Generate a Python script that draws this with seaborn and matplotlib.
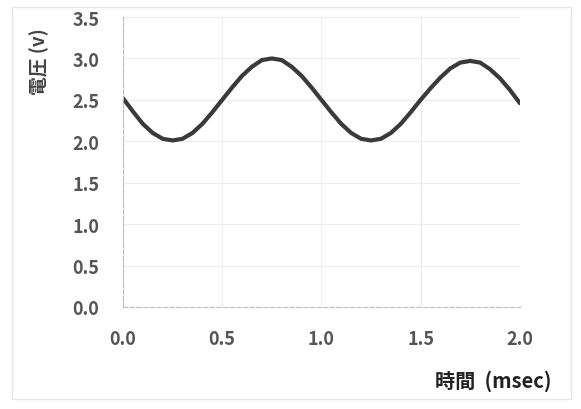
import matplotlib
matplotlib.use("Agg")
import matplotlib.pyplot as plt
import seaborn as sns
import pandas as pd
from matplotlib.patches import Rectangle

# time (msec) and voltage (v)
time_ms = [0.00, 0.05, 0.10, 0.15, 0.20, 0.25, 0.30, 0.35, 0.40, 0.45,
           0.50, 0.55, 0.60, 0.65, 0.70, 0.75, 0.80, 0.85, 0.90, 0.95,
           1.00, 1.05, 1.10, 1.15, 1.20, 1.25, 1.30, 1.35, 1.40, 1.45,
           1.50, 1.55, 1.60, 1.65, 1.70, 1.75, 1.80, 1.85, 1.90, 1.95, 2.00]
voltage = [2.52, 2.36, 2.21, 2.10, 2.03, 2.01, 2.03, 2.10, 2.21, 2.35,
           2.50, 2.65, 2.79, 2.90, 2.98, 3.00, 2.98, 2.90, 2.79, 2.65,
           2.50, 2.35, 2.21, 2.10, 2.03, 2.01, 2.03, 2.10, 2.21, 2.35,
           2.50, 2.64, 2.77, 2.88, 2.95, 2.97, 2.95, 2.87, 2.76, 2.62, 2.46]
x_ticks = [0.0, 0.5, 1.0, 1.5, 2.0]
y_ticks = [0.0, 0.5, 1.0, 1.5, 2.0, 2.5, 3.0, 3.5]

df = pd.DataFrame({"t": time_ms, "v": voltage})

sns.set_theme(style="white")
plt.rcParams["font.family"] = ["Noto Sans CJK JP", "DejaVu Sans"]

fig = plt.figure(figsize=(5.81, 4.10), dpi=100)
ax = fig.add_axes([0.2117, 0.249, 0.683, 0.707])

# faint scanned frame around the chart
fig.patches.append(Rectangle((0.02, 0.025), 0.962, 0.955, transform=fig.transFigure,
                             fill=False, edgecolor="#e6e6e6", linewidth=1.0))

sns.lineplot(data=df, x="t", y="v", ax=ax, color="#3a3a3a", linewidth=3.0)

ax.set_xlim(0, 2.0)
ax.set_ylim(0, 3.5)
ax.set_xticks(x_ticks)
ax.set_yticks(y_ticks)
ax.set_xticklabels([f"{v:.1f}" for v in x_ticks])
ax.set_yticklabels([f"{v:.1f}" for v in y_ticks])
ax.grid(True, color="#ececec", linewidth=0.8)

for side in ["top", "right"]:
    ax.spines[side].set_visible(False)
for side in ["left", "bottom"]:
    ax.spines[side].set_color("#bdbdbd")
    ax.spines[side].set_linewidth(0.8)
    ax.spines[side].set_linestyle((0, (4, 2)))

ax.tick_params(axis="y", length=0, pad=17, labelsize=13, labelcolor="#555555")
ax.tick_params(axis="x", length=0, pad=16, labelsize=13, labelcolor="#555555")
for lab in ax.get_xticklabels() + ax.get_yticklabels():
    lab.set_fontweight("bold")

ax.set_ylabel("電圧 (v)", fontsize=13.5, fontweight="bold", color="#444444")
ax.yaxis.set_label_coords(-0.185, 0.85)
ax.set_xlabel("時間  (msec)", fontsize=14.5, fontweight="bold", color="#222222")
ax.xaxis.set_label_coords(1.08, -0.215)
ax.xaxis.label.set_horizontalalignment("right")

fig.savefig("out.png", dpi=100, facecolor="white")
